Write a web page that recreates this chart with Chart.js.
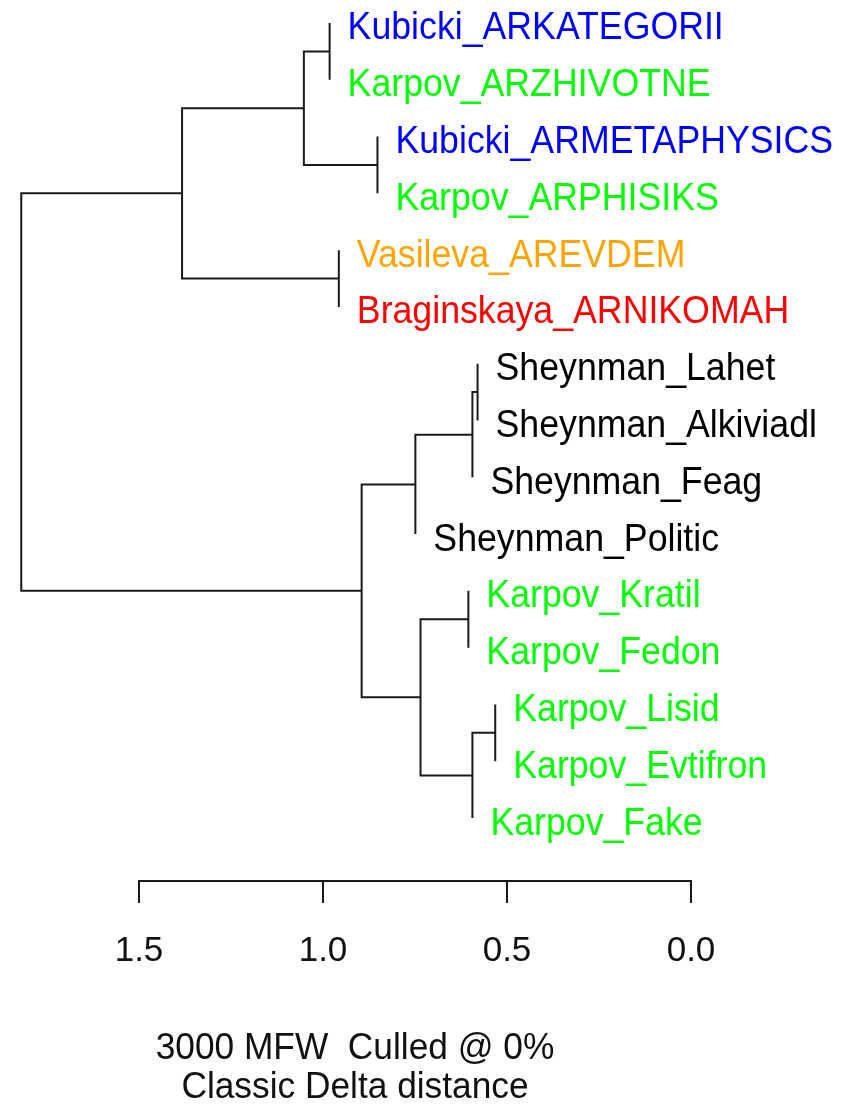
<!DOCTYPE html>
<html>
<head>
<meta charset="utf-8">
<script src="https://cdn.jsdelivr.net/npm/chart.js@4/dist/chart.umd.min.js"></script>
<style>
	html, body { margin: 0; padding: 0; background: #fff; }
	canvas { display: block; }
</style>
</head>
<body>
<canvas id="tree" width="851" height="1109"></canvas>
<script>
// leaves, top to bottom
var leafLabels = [
	'Kubicki_ARKATEGORII', 'Karpov_ARZHIVOTNE', 'Kubicki_ARMETAPHYSICS', 'Karpov_ARPHISIKS',
	'Vasileva_AREVDEM', 'Braginskaya_ARNIKOMAH',
	'Sheynman_Lahet', 'Sheynman_Alkiviadl', 'Sheynman_Feag', 'Sheynman_Politic',
	'Karpov_Kratil', 'Karpov_Fedon', 'Karpov_Lisid', 'Karpov_Evtifron', 'Karpov_Fake'
];
// hclust style merges: negative = leaf number, positive = earlier merge
var mergePairs = [
	[-1, -2], [-3, -4], [1, 2], [-5, -6], [3, 4],
	[-7, -8], [6, -9], [7, -10], [-11, -12], [-13, -14],
	[10, -15], [9, 11], [8, 12], [5, 13]
];
var mergeHeights = [0.982, 0.852, 1.052, 0.957, 1.383, 0.580, 0.594, 0.749, 0.605, 0.532, 0.594, 0.735, 0.895, 1.820];
var tickValues = [0, 0.5, 1.0, 1.5];
var captionLines = ['3000 MFW  Culled @ 0%', 'Classic Delta distance'];

var authorColors = {
	Kubicki: '#0000ff',
	Karpov: '#00ff00',
	Vasileva: '#ffa500',
	Braginskaya: '#ff0000',
	Sheynman: '#000000'
};
var FONT = '"Liberation Sans", Arial, sans-serif';
var LINE = '#1a1a1a';

// node positions: leaves sit at their parent's height
var nodeY = [];
var leafTip = [];
function childPos(c, h) {
	if (c < 0) {
		leafTip[-c - 1] = h;
		return { x: h, y: -c };
	}
	return { x: mergeHeights[c - 1], y: nodeY[c - 1] };
}
var datasets = [];
mergePairs.forEach(function(pair, i) {
	var h = mergeHeights[i];
	var a = childPos(pair[0], h);
	var b = childPos(pair[1], h);
	nodeY[i] = (a.y + b.y) / 2;
	datasets.push({
		data: [{ x: a.x, y: a.y }, { x: h, y: a.y }, { x: h, y: b.y }, { x: b.x, y: b.y }],
		showLine: true,
		borderColor: LINE,
		borderWidth: 2,
		borderJoinStyle: 'miter',
		pointRadius: 0,
		pointHoverRadius: 0,
		tension: 0,
		clip: false
	});
});

// text a bit taller than wide, like the R device output
function stretchText(ctx, str, x, y) {
	ctx.save();
	ctx.translate(x, y);
	ctx.scale(1, 1.07);
	ctx.fillText(str, 0, 0);
	ctx.restore();
}

var leafText = {
	id: 'leafText',
	afterDatasetsDraw: function(chart) {
		var ctx = chart.ctx;
		var xs = chart.scales.x, ys = chart.scales.y;
		ctx.save();
		ctx.font = '35.7px ' + FONT;
		ctx.textAlign = 'left';
		ctx.textBaseline = 'alphabetic';
		leafLabels.forEach(function(name, i) {
			ctx.fillStyle = authorColors[name.split('_')[0]] || '#000';
			stretchText(ctx, name, xs.getPixelForValue(leafTip[i]) + 18, ys.getPixelForValue(i + 1) + 16.5);
		});
		ctx.font = '35.3px ' + FONT;
		ctx.fillStyle = '#111';
		ctx.textAlign = 'center';
		stretchText(ctx, captionLines[0], 355, 1059);
		stretchText(ctx, captionLines[1], 355, 1098);
		ctx.restore();
	}
};

var chart = new Chart(document.getElementById('tree'), {
	type: 'scatter',
	data: { datasets: datasets },
	plugins: [leafText],
	options: {
		responsive: false,
		animation: false,
		devicePixelRatio: 1,
		layout: { padding: { left: 139, right: 160, top: 0, bottom: 0 } },
		plugins: {
			legend: { display: false },
			tooltip: { enabled: false }
		},
		scales: {
			x: {
				type: 'linear',
				position: 'bottom',
				reverse: true,
				min: 0,
				max: 1.5,
				afterBuildTicks: function(s) {
					s.ticks = tickValues.map(function(v) { return { value: v }; });
				},
				afterFit: function(s) { s.height = 228; },
				ticks: {
					autoSkip: false,
					maxRotation: 0,
					padding: 27,
					color: '#111',
					font: { family: FONT, size: 35 },
					callback: function(v) { return Number(v).toFixed(1); }
				},
				grid: {
					drawOnChartArea: false,
					drawTicks: true,
					tickLength: 22,
					color: LINE,
					lineWidth: 2
				},
				border: { display: true, color: LINE, width: 2 }
			},
			y: {
				type: 'linear',
				display: false,
				reverse: true,
				min: 0.595,
				max: 16.109
			}
		}
	}
});
</script>
</body>
</html>
